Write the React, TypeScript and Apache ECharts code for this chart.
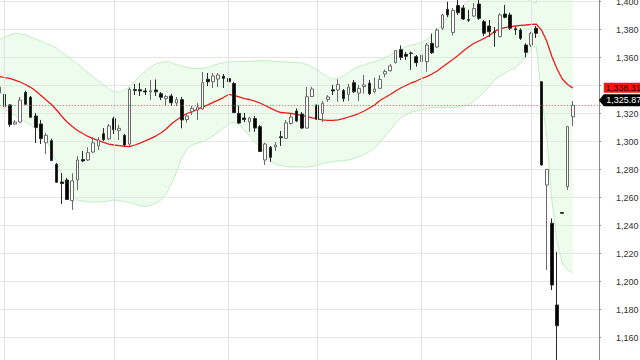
import { useEffect, useRef } from "react";
import * as echarts from "echarts";

const opens = [1334.6, 1333.7, 1326.1, 1312.5, 1313.9, 1335.0, 1331.6, 1318.2, 1312.5, 1299.1,
  1300.6, 1283.7, 1271.1, 1272.5, 1257.8, 1272.5, 1287.1, 1286.8, 1292.5, 1296.8,
  1305.6, 1301.8, 1316.3, 1307.9, 1304.4, 1298.2, 1337.1, 1337.0, 1336.1, 1335.4,
  1336.8, 1334.1, 1330.7, 1332.5, 1327.5, 1329.9, 1315.7, 1321.3, 1322.5, 1323.2,
  1344.4, 1342.7, 1344.6, 1346.6, 1345.0, 1341.4, 1320.1, 1316.8, 1314.1, 1316.4,
  1310.6, 1286.8, 1295.9, 1296.1, 1303.4, 1302.3, 1312.9, 1321.8, 1319.6, 1309.6,
  1332.1, 1326.1, 1320.1, 1330.1, 1336.9, 1336.8, 1336.4, 1333.6, 1342.0, 1334.6,
  1339.2, 1341.6, 1335.6, 1338.0, 1348.2, 1350.6, 1356.4, 1365.6, 1362.3, 1363.2,
  1360.6, 1357.0, 1357.0, 1370.1, 1367.5, 1380.9, 1394.4, 1377.9, 1397.1, 1395.4,
  1387.1, 1389.6, 1398.2, 1385.6, 1382.5, 1378.4, 1374.9, 1391.1, 1390.4, 1380.5,
  1379.6, 1368.9, 1368.9, 1380.9, 1342.7, 1268.9, 1241.6, 1183.2, 1249.3, 1267.7,
  1317.7];

const closes = [1338.9, 1324.9, 1312.1, 1313.9, 1329.6, 1326.6, 1317.3, 1310.0, 1302.0, 1304.4,
  1286.4, 1270.9, 1270.0, 1258.6, 1271.8, 1286.8, 1286.1, 1292.0, 1299.1, 1301.1,
  1301.3, 1311.1, 1308.4, 1309.4, 1297.5, 1337.3, 1336.4, 1336.1, 1335.4, 1336.3,
  1335.5, 1331.6, 1332.1, 1327.7, 1330.0, 1315.4, 1318.2, 1323.7, 1324.6, 1342.1,
  1342.7, 1346.8, 1347.5, 1345.1, 1342.7, 1320.6, 1313.2, 1315.6, 1316.8, 1309.6,
  1292.9, 1298.2, 1288.7, 1297.5, 1302.7, 1313.4, 1317.5, 1314.6, 1309.6, 1332.0,
  1337.5, 1315.9, 1327.3, 1331.8, 1336.1, 1340.6, 1330.6, 1338.9, 1335.6, 1337.9,
  1340.4, 1334.1, 1337.5, 1344.4, 1350.0, 1353.9, 1364.9, 1360.1, 1360.9, 1362.9,
  1356.3, 1361.8, 1368.9, 1363.4, 1379.6, 1390.4, 1390.4, 1393.6, 1392.0, 1387.5,
  1386.6, 1395.0, 1388.0, 1377.3, 1378.4, 1377.9, 1390.4, 1388.7, 1380.9, 1379.8,
  1373.7, 1363.7, 1377.3, 1377.3, 1283.2, 1280.1, 1197.5, 1168.4, 1248.7, 1310.6,
  1325.87];

const lows = [1333.2, 1323.4, 1310.4, 1311.8, 1313.2, 1326.1, 1316.8, 1298.9, 1298.2, 1290.9,
  1286.1, 1270.3, 1255.4, 1258.2, 1251.1, 1265.4, 1285.4, 1286.1, 1291.8, 1293.9,
  1300.4, 1301.1, 1305.4, 1301.1, 1296.6, 1296.8, 1333.2, 1332.5, 1333.2, 1329.6,
  1332.5, 1329.6, 1325.4, 1325.4, 1325.4, 1309.4, 1313.5, 1318.9, 1315.4, 1322.5,
  1339.6, 1338.2, 1338.9, 1338.2, 1341.6, 1320.4, 1312.5, 1313.9, 1307.0, 1306.8,
  1292.5, 1283.2, 1285.4, 1293.2, 1296.8, 1301.8, 1312.1, 1313.9, 1308.9, 1309.3,
  1331.8, 1311.8, 1313.9, 1328.2, 1333.2, 1328.4, 1328.4, 1328.9, 1334.6, 1328.9,
  1334.4, 1333.2, 1334.4, 1337.5, 1345.9, 1349.9, 1355.7, 1358.2, 1358.2, 1351.1,
  1353.4, 1353.9, 1349.9, 1362.5, 1366.8, 1379.6, 1388.9, 1375.7, 1390.4, 1386.8,
  1385.4, 1388.9, 1386.8, 1375.4, 1374.6, 1367.7, 1374.3, 1388.0, 1379.6, 1376.1,
  1372.5, 1360.1, 1367.5, 1373.9, 1282.8, 1208.2, 1193.9, 1141.0, 1248.2, 1265.4,
  1311.1];

const highs = [1340.4, 1334.6, 1326.8, 1315.4, 1331.8, 1336.3, 1332.5, 1320.4, 1315.4, 1306.1,
  1302.0, 1284.6, 1277.5, 1274.0, 1277.3, 1289.6, 1293.2, 1295.9, 1303.2, 1303.2,
  1309.6, 1312.5, 1317.7, 1311.8, 1305.4, 1338.6, 1341.1, 1341.8, 1338.2, 1343.9,
  1344.3, 1335.4, 1333.2, 1334.0, 1331.8, 1331.8, 1320.2, 1325.4, 1327.5, 1349.6,
  1348.9, 1348.9, 1348.9, 1348.2, 1346.3, 1342.5, 1325.7, 1320.4, 1317.7, 1318.2,
  1311.8, 1299.1, 1296.8, 1299.6, 1307.5, 1315.4, 1320.1, 1323.6, 1321.1, 1338.9,
  1339.1, 1326.8, 1328.9, 1333.2, 1340.4, 1344.4, 1337.5, 1341.1, 1343.9, 1340.4,
  1347.5, 1343.9, 1345.7, 1347.5, 1351.4, 1355.4, 1365.4, 1368.6, 1363.9, 1364.2,
  1361.8, 1363.4, 1370.4, 1377.1, 1380.9, 1391.4, 1399.9, 1395.4, 1401.5, 1397.5,
  1394.0, 1398.9, 1401.5, 1386.8, 1386.8, 1381.8, 1391.6, 1397.5, 1392.0, 1382.0,
  1380.9, 1370.1, 1378.4, 1382.5, 1343.0, 1280.4, 1245.1, 1221.3, 1249.6, 1311.1,
  1328.9];

const movingAverage = [1346.4, 1345.7, 1345.1, 1343.9, 1342.5, 1340.7, 1338.7, 1336.1, 1332.9, 1329.6,
  1326.4, 1322.5, 1317.9, 1313.9, 1310.7, 1307.9, 1305.7, 1303.6, 1302.1, 1300.7,
  1299.3, 1298.2, 1297.5, 1297.1, 1296.6, 1296.4, 1297.5, 1298.9, 1300.4, 1302.1,
  1303.9, 1306.1, 1308.9, 1312.5, 1315.4, 1317.9, 1320.0, 1321.4, 1322.9, 1324.6,
  1326.1, 1327.9, 1329.6, 1331.4, 1333.6, 1332.9, 1331.8, 1330.7, 1330.0, 1328.9,
  1327.5, 1325.7, 1323.9, 1322.1, 1320.7, 1320.4, 1320.0, 1319.3, 1318.6, 1317.9,
  1316.8, 1316.1, 1315.4, 1315.1, 1315.1, 1315.4, 1316.4, 1317.5, 1318.6, 1320.0,
  1321.8, 1323.9, 1326.1, 1329.3, 1331.4, 1333.6, 1336.1, 1338.2, 1340.0, 1341.8,
  1343.2, 1345.0, 1346.4, 1348.2, 1350.4, 1353.2, 1355.9, 1358.6, 1361.4, 1364.6,
  1367.5, 1370.0, 1371.8, 1373.6, 1375.7, 1378.6, 1380.4, 1381.4, 1382.1, 1382.5,
  1382.9, 1383.2, 1383.6, 1383.9, 1379.6, 1371.8, 1360.7, 1351.8, 1344.6, 1340.7,
  1338.31];

const upperBand = [1372.5, 1374.6, 1376.1, 1377.1, 1376.8, 1376.1, 1374.6, 1373.2, 1371.8, 1370.0,
  1368.6, 1366.8, 1363.6, 1361.1, 1358.2, 1355.4, 1352.3, 1349.3, 1346.1, 1343.2,
  1340.4, 1337.5, 1335.7, 1335.4, 1336.4, 1339.3, 1343.2, 1346.8, 1350.0, 1353.2,
  1355.4, 1356.4, 1357.0, 1356.4, 1355.0, 1353.9, 1352.9, 1352.3, 1352.1, 1352.1,
  1352.9, 1354.3, 1355.4, 1356.4, 1357.0, 1357.0, 1357.0, 1357.0, 1357.1, 1357.5,
  1357.7, 1357.7, 1357.5, 1357.1, 1357.0, 1356.8, 1356.6, 1356.4, 1356.1, 1355.0,
  1353.2, 1351.1, 1348.2, 1346.1, 1344.6, 1345.0, 1346.8, 1349.3, 1351.8, 1353.6,
  1354.6, 1356.1, 1357.1, 1358.2, 1359.6, 1361.8, 1363.9, 1365.7, 1367.5, 1368.9,
  1369.6, 1370.7, 1372.9, 1375.7, 1379.6, 1383.9, 1388.6, 1392.1, 1395.0, 1397.1,
  1400.4, 1403.2, 1406.8, 1409.6, 1411.8, 1413.2, 1413.9, 1413.2, 1411.1, 1408.2,
  1405.4, 1402.5, 1400.0, 1398.9, 1426.1, 1438.9, 1463.2, 1475.4, 1476.1, 1473.2,
  1470.4];

const lowerBand = [1324.6, 1322.9, 1321.1, 1318.6, 1316.1, 1313.9, 1311.8, 1309.3, 1306.8, 1301.1,
  1293.9, 1285.4, 1276.1, 1266.8, 1261.1, 1258.2, 1257.5, 1256.8, 1256.8, 1256.8,
  1257.1, 1257.5, 1258.2, 1257.9, 1257.1, 1256.4, 1255.4, 1253.9, 1253.6, 1254.3,
  1256.1, 1258.2, 1262.5, 1269.6, 1278.2, 1288.2, 1294.6, 1297.5, 1298.9, 1299.6,
  1301.8, 1303.9, 1306.8, 1309.6, 1312.9, 1313.9, 1312.1, 1308.2, 1303.9, 1299.6,
  1296.1, 1290.4, 1286.4, 1283.9, 1282.9, 1282.1, 1281.8, 1281.8, 1281.8, 1281.8,
  1282.1, 1283.2, 1284.3, 1285.0, 1285.6, 1286.1, 1286.4, 1286.8, 1287.9, 1289.1,
  1290.7, 1292.9, 1295.4, 1298.9, 1303.9, 1308.2, 1313.2, 1316.8, 1318.9, 1321.1,
  1321.8, 1322.5, 1323.6, 1324.3, 1324.3, 1324.3, 1324.3, 1324.3, 1324.6, 1325.4,
  1326.1, 1328.9, 1331.8, 1335.4, 1339.6, 1343.9, 1346.8, 1348.9, 1351.1, 1352.5,
  1356.1, 1361.1, 1366.1, 1368.2, 1333.2, 1304.6, 1258.2, 1228.2, 1213.2, 1208.2,
  1206.1];

const monthStartIndices = [1, 22, 44, 61, 81, 102];
const slotCount = 116;
const lastClose = 1325.87;
const lastAverage = 1338.31;
const yMin = 1140;
const yMax = 1420;
const yStep = 20;

const fmt = (v: number, d = 0) =>
  v.toLocaleString("en-US", { minimumFractionDigits: d, maximumFractionDigits: d });

export default function App() {
  const ref = useRef<HTMLDivElement>(null);

  useEffect(() => {
    const chart = echarts.init(ref.current!, null, { renderer: "svg" });
    const categories = Array.from({ length: slotCount }, (_, i) => String(i));
    const candles = opens.map((o, i) => [o, closes[i], lows[i], highs[i]]);
    const bandSpan = upperBand.map((u, i) => +(u - lowerBand[i]).toFixed(2));
    const lastSlot = categories[slotCount - 1];
    const font = 'Arial, "Liberation Sans", sans-serif';

    chart.setOption({
      animation: false,
      backgroundColor: "#ffffff",
      grid: {
        left: -3.3,
        right: 38.6,
        top: -26.5,
        bottom: -5.5,
        containLabel: false,
        outerBoundsMode: "none",
      },
      xAxis: {
        type: "category",
        data: categories,
        boundaryGap: true,
        axisLine: { show: false },
        axisTick: { show: false },
        axisLabel: { show: false },
        splitLine: { show: false },
      },
      yAxis: {
        type: "value",
        position: "right",
        offset: -2.4,
        min: yMin,
        max: yMax,
        interval: yStep,
        axisLine: { show: true, lineStyle: { color: "#8a8a8a", width: 1 } },
        axisTick: { show: true, length: 2, lineStyle: { color: "#8a8a8a" } },
        axisLabel: {
          fontSize: 9,
          fontFamily: font,
          color: "#333333",
          margin: 17,
          formatter: (v: number) => fmt(v),
        },
        splitLine: { show: true, lineStyle: { color: "#e6e6e6", width: 1 } },
      },
      series: [
        {
          name: "lower",
          type: "line",
          data: lowerBand,
          stack: "bb",
          symbol: "none",
          silent: true,
          z: 1,
          lineStyle: { color: "#c2eec2", width: 1 },
          markLine: {
            silent: true,
            symbol: ["none", "none"],
            label: { show: false },
            lineStyle: { color: "#e2e2e2", width: 1, type: "solid" },
            data: monthStartIndices.map((i) => ({ xAxis: categories[i] })),
          },
        },
        {
          name: "band",
          type: "line",
          data: bandSpan,
          stack: "bb",
          symbol: "none",
          silent: true,
          z: 1,
          lineStyle: { color: "#c2eec2", width: 1 },
          areaStyle: { color: "rgba(214,247,214,0.6)" },
        },
        {
          name: "ma",
          type: "line",
          data: movingAverage,
          symbol: "none",
          silent: true,
          z: 3,
          lineStyle: { color: "#ee1a1a", width: 1.3 },
        },
        {
          name: "price",
          type: "candlestick",
          data: candles,
          barWidth: 3.2,
          z: 4,
          itemStyle: {
            color: "#ffffff",
            color0: "#000000",
            borderColor: "#6a6a6a",
            borderColor0: "#2a2a2a",
            borderWidth: 1,
          },
          markLine: {
            silent: true,
            symbol: ["none", "none"],
            label: { show: false },
            lineStyle: { color: "#d05050", width: 1, type: [1, 2] },
            data: [{ yAxis: lastClose }],
          },
          markPoint: {
            silent: true,
            data: [
              {
                coord: [lastSlot, lastAverage],
                value: lastAverage,
                symbol: "rect",
                symbolSize: [44, 10],
                symbolOffset: [27, 0],
                itemStyle: { color: "#ff1414" },
                label: {
                  show: true,
                  position: "inside",
                  fontSize: 9,
                  fontFamily: font,
                  color: "#200000",
                  offset: [-2.5, 0],
                  formatter: fmt(lastAverage, 2),
                },
              },
              {
                coord: [lastSlot, lastClose],
                value: lastClose,
                symbol: "path://M0,6L5,0L52,0L52,12L5,12Z",
                symbolSize: [52, 12],
                symbolOffset: [26, -5],
                itemStyle: { color: "#000000" },
                label: {
                  show: true,
                  position: "inside",
                  fontSize: 9,
                  fontFamily: font,
                  color: "#ffffff",
                  offset: [-1, 0],
                  formatter: fmt(lastClose, 2),
                },
              },
            ],
          },
        },
      ],
    });

    return () => chart.dispose();
  }, []);

  return (
    <div
      ref={ref}
      style={{ position: "fixed", left: 0, top: 0, width: 640, height: 360 }}
    />
  );
}
